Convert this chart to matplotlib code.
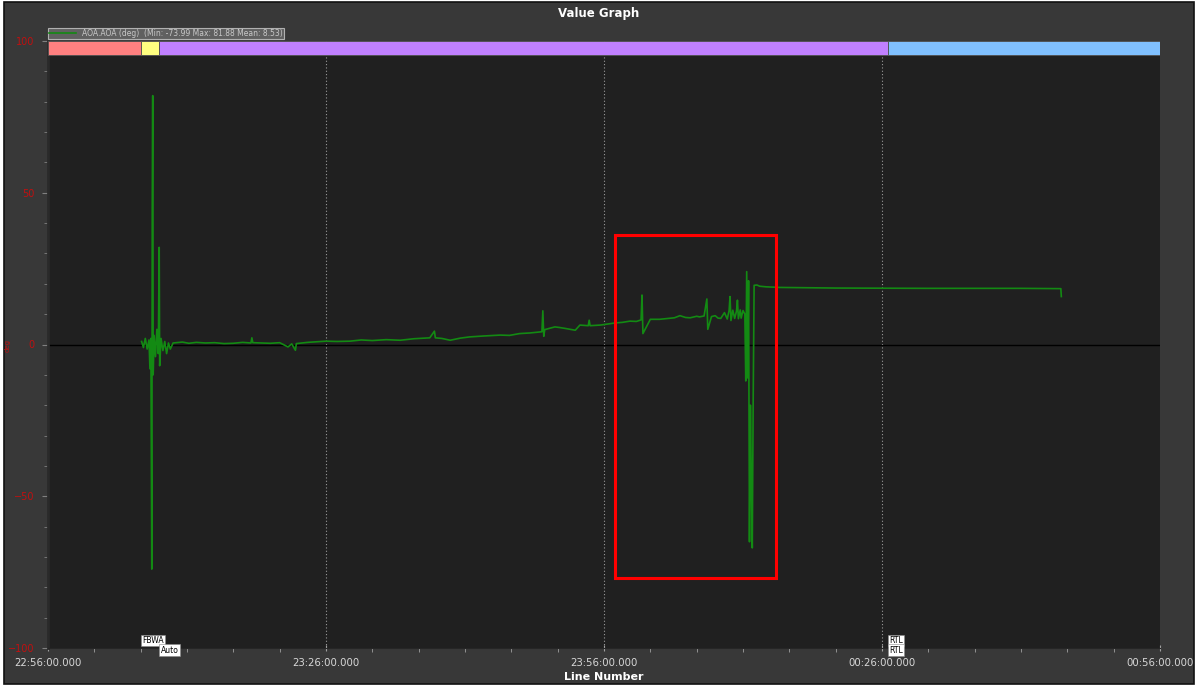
import matplotlib.pyplot as plt
from matplotlib.patches import Rectangle

# minutes after 22:56:00 and AOA in degrees
minutes = [
    10.1, 10.3, 10.5, 10.7, 10.9, 11.0, 11.1, 11.2, 11.25, 11.3, 11.35,
    11.45, 11.6, 11.75, 11.9, 12.0, 12.05, 12.2, 12.4, 12.6, 12.8, 13.0,
    13.2, 13.5, 14.5, 15.2, 16.0, 17.0, 18.0, 19.0, 20.0, 21.0, 21.9,
    22.0, 22.1, 23.0, 24.0, 25.0, 25.9, 26.3, 26.7, 26.8, 28.0, 29.0,
    30.0, 31.2, 32.6, 33.8, 35.0, 36.5, 38.0, 39.5, 41.2, 41.7, 41.8,
    42.5, 43.4, 44.5, 45.5, 47.0, 48.8, 49.8, 50.9, 52.0, 53.3, 53.4,
    53.5, 53.6, 54.7, 55.2, 55.8, 56.9, 57.4, 58.3, 58.4, 58.5, 59.6,
    60.3, 61.2, 62.0, 62.8, 63.5, 64.0, 64.1, 64.2, 65.0, 66.0, 67.0,
    67.6, 68.2, 68.8, 69.3, 70.0, 70.3, 70.8, 71.1, 71.2, 71.6, 72.0,
    72.3, 72.6, 73.0, 73.3, 73.5, 73.6, 73.7, 73.9, 74.1, 74.3, 74.4,
    74.5, 74.7, 74.8, 75.0, 75.2, 75.3, 75.4, 75.5, 75.6, 75.7, 75.8,
    75.9, 76.0, 76.1, 76.2, 76.5, 76.8, 77.5, 79.0, 85.0, 95.0, 105.0,
    109.3, 109.35,
]
aoa = [
    1.0, -1.0, 2.0, -1.5, 1.5, -8.0, 2.0, -74.0, 45.0, 82.0, -10.0,
    3.0, -4.0, 5.0, -3.0, 32.0, -7.0, 2.0, -2.0, 1.0, -3.0, 0.5,
    -1.5, 0.5, 0.8, 0.4, 0.7, 0.5, 0.6, 0.3, 0.4, 0.7, 0.5,
    2.2, 0.6, 0.5, 0.4, 0.6, -0.8, 0.2, -1.9, 0.3, 0.7, 0.9,
    1.1, 1.0, 1.1, 1.5, 1.3, 1.6, 1.4, 1.9, 2.2, 4.4, 2.2,
    2.0, 1.4, 2.1, 2.5, 2.8, 3.1, 3.0, 3.6, 3.8, 4.2, 11.1,
    2.7, 4.9, 5.8, 5.6, 5.3, 4.7, 6.4, 6.2, 8.0, 6.2, 6.4,
    6.7, 7.1, 7.3, 7.7, 7.6, 8.1, 16.3, 3.6, 8.3, 8.3, 8.6,
    8.8, 9.5, 8.9, 8.8, 9.3, 9.1, 9.4, 15.0, 5.0, 9.2, 9.5,
    8.7, 8.6, 10.5, 8.4, 11.2, 15.8, 7.9, 11.3, 8.6, 11.0, 14.6,
    8.5, 11.4, 8.7, 11.2, 10.0, -12.0, 24.0, -11.0, 21.0, -65.0, -20.0,
    -45.0, -67.0, -18.0, 19.5, 19.6, 19.2, 19.0, 18.8, 18.6, 18.5, 18.5,
    18.4, 15.8,
]

# flight modes (start, end in minutes)
mode_starts = [0.0, 10.0, 12.0, 90.6]
mode_ends = [10.0, 12.0, 90.6, 120.0]
mode_colors = ["#ff8080", "#ffff80", "#c080ff", "#80c0ff"]
mode_labels = [("FBWA", 10.0, 0), ("Auto", 12.0, 1), ("RTL", 90.6, 0), ("RTL", 90.6, 1)]

x_ticks = [0, 30, 60, 90, 120]
x_labels = ["22:56:00.000", "23:26:00.000", "23:56:00.000", "00:26:00.000", "00:56:00.000"]
y_ticks = [-100, -50, 0, 50, 100]

# highlighted window
box_x = (61.2, 78.6)
box_y = (-76.8, 36.2)

fig = plt.figure(figsize=(11.98, 6.86), dpi=100, facecolor="white")
fig.patches.append(Rectangle((4 / 1198, 2 / 686), 1190 / 1198, 682 / 686,
                             transform=fig.transFigure, facecolor="#383838",
                             edgecolor="#111111", linewidth=1.2, zorder=-1))

ax = fig.add_axes([48 / 1198, 38 / 686, 1112 / 1198, 607 / 686])
ax.set_facecolor("#202020")
ax.set_xlim(0, 120)
ax.set_ylim(-100, 100)

for s0, s1, c in zip(mode_starts, mode_ends, mode_colors):
    ax.axvspan(s0, s1, ymin=1 - 14 / 607, ymax=1.0, facecolor=c,
               edgecolor="#505050", linewidth=0.6, zorder=3)

for xt in x_ticks[1:-1]:
    ax.axvline(xt, color="#9a9a9a", linestyle=(0, (1, 2)), linewidth=0.8, zorder=1)
ax.axhline(0, color="black", linewidth=1.0, zorder=2)

ax.plot(minutes, aoa, color="#138a13", linewidth=1.2, zorder=4,
        label="AOA.AOA (deg)  (Min: -73.99 Max: 81.88 Mean: 8.53)")

ax.add_patch(Rectangle((box_x[0], box_y[0]), box_x[1] - box_x[0], box_y[1] - box_y[0],
                       fill=False, edgecolor="#ff0000", linewidth=2.2, zorder=5))

for name, t, row in mode_labels:
    ax.text(t + 0.15, -97.5 - row * 3.2, name, fontsize=5.5, color="black",
            ha="left", va="center", clip_on=False, zorder=6,
            bbox=dict(boxstyle="square,pad=0.15", facecolor="white", edgecolor="#888888", linewidth=0.4))

ax.set_xticks(x_ticks)
ax.set_xticklabels(x_labels)
ax.set_xticks(range(0, 121, 5), minor=True)
ax.set_yticks(y_ticks)
ax.set_yticks(range(-100, 101, 10), minor=True)
ax.tick_params(axis="x", colors="#a0a0a0", labelcolor="#d8d8d8", labelsize=7.3,
               length=4, width=0.8, direction="inout", pad=5)
ax.tick_params(axis="x", which="minor", colors="#a0a0a0", length=3, width=0.6, direction="out")
ax.tick_params(axis="y", colors="#808080", labelcolor="#c01010", labelsize=7,
               length=4, width=0.8, pad=6)
ax.tick_params(axis="y", which="minor", colors="#808080", length=3, width=0.6)
for side in ["top", "right"]:
    ax.spines[side].set_visible(False)
ax.spines["left"].set_color("#2a2a2a")
ax.spines["left"].set_linewidth(2)
ax.spines["bottom"].set_color("#262626")

ax.set_xlabel("Line Number", color="white", fontsize=8, fontweight="bold", labelpad=3)
fig.text(8 / 1198, 1 - 346 / 686, "deg", color="#c01010", fontsize=5, rotation=90,
         ha="center", va="center")
fig.text(0.5, 1 - 14 / 686, "Value Graph", color="white", fontsize=8.5,
         fontweight="bold", ha="center", va="center")

leg = ax.legend(loc="lower left", bbox_to_anchor=(0.0, 1.003), fontsize=5.5,
                frameon=True, fancybox=False, facecolor="#606060", edgecolor="#b0b0b0",
                labelcolor="#c8c8c8", handlelength=3.5, borderpad=0.15,
                handletextpad=0.8, borderaxespad=0.0)
leg.get_frame().set_linewidth(0.8)
leg.get_frame().set_alpha(1)

fig.savefig("out.png", dpi=100, facecolor="white")
